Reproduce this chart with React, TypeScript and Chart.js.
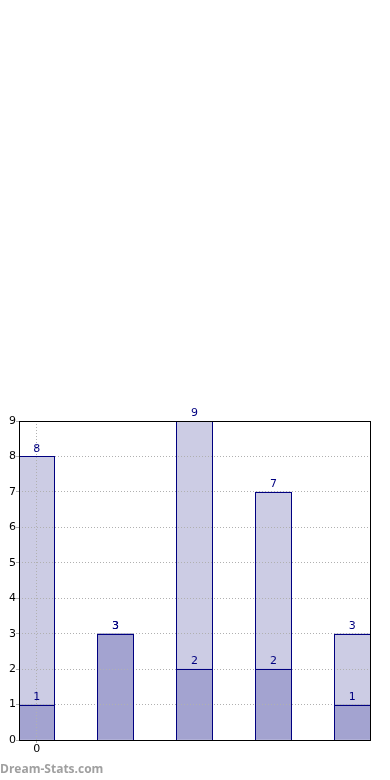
import React, { useEffect, useRef } from "react";
import { Chart, registerables } from "chart.js";

Chart.register(...registerables);

const positions = [0, 1, 2, 3, 4];
const totalValues = [8, 3, 9, 7, 3];
const partValues = [1, 3, 2, 2, 1];
const yTicks = [0, 1, 2, 3, 4, 5, 6, 7, 8, 9];
const xTickLabels = ["0"];
const watermark = "Dream-Stats.com";

const LIGHT = "#ccccE4";
const DARK = "#a3a3d0";
const NAVY = "#000080";

const framePlugin = {
  id: "frame",
  afterDraw(chart: any) {
    const { ctx, chartArea } = chart;
    const fl = Math.round(chartArea.left) + 0.5;
    const ft = Math.round(chartArea.top) + 0.5;
    const fw = Math.round(chartArea.right - chartArea.left);
    const fh = Math.round(chartArea.bottom - chartArea.top);
    ctx.save();
    ctx.strokeStyle = NAVY;
    ctx.lineWidth = 1;
    [0, 1].forEach((di) => {
      const meta = chart.getDatasetMeta(di);
      meta.data.forEach((el: any) => {
        const l = Math.max(fl, Math.floor(el.x - el.width / 2) + 0.5);
        const r = Math.min(fl + fw, Math.floor(el.x + el.width / 2) + 0.5);
        const t = Math.round(el.y) + 0.5;
        const b = Math.round(el.base) + 0.5;
        ctx.strokeRect(l, t, r - l, b - t);
      });
    });
    ctx.font = "11px 'DejaVu Sans'";
    ctx.fillStyle = NAVY;
    ctx.textAlign = "center";
    ctx.textBaseline = "bottom";
    chart.data.datasets.forEach((ds: any, di: number) => {
      const meta = chart.getDatasetMeta(di);
      meta.data.forEach((el: any, i: number) => {
        const v = ds.data[i].y;
        ctx.fillText(String(v), el.x, el.y - 2);
      });
    });
    ctx.strokeStyle = "#000";
    ctx.strokeRect(fl, ft, fw, fh);
    ctx.font = "bold 12px 'Open Sans'";
    ctx.fillStyle = "#a0a0a0";
    ctx.textAlign = "left";
    ctx.textBaseline = "middle";
    ctx.fillText(watermark, 0, 770);
    ctx.restore();
  },
};

export default function App() {
  const ref = useRef<HTMLCanvasElement>(null);
  useEffect(() => {
    if (!ref.current) return;
    const chart = new Chart(ref.current, {
      type: "bar",
      data: {
        datasets: [
          {
            data: positions.map((x, i) => ({ x, y: totalValues[i] })),
            backgroundColor: LIGHT,
            borderWidth: 0,
            barThickness: 35.5,
            grouped: false,
            order: 2,
          },
          {
            data: positions.map((x, i) => ({ x, y: partValues[i] })),
            backgroundColor: DARK,
            borderWidth: 0,
            barThickness: 35.5,
            grouped: false,
            order: 1,
          },
        ] as any,
      },
      options: {
        animation: false,
        responsive: false,
        maintainAspectRatio: false,
        layout: { padding: { top: 421, right: 20, left: 0, bottom: 0 } },
        plugins: { legend: { display: false }, tooltip: { enabled: false } },
        scales: {
          x: {
            type: "linear",
            offset: false,
            z: 1,
            min: -0.225,
            max: 4.225,
            afterBuildTicks(axis: any) {
              axis.ticks = xTickLabels.map((l) => ({ value: Number(l) }));
            },
            afterFit(axis: any) {
              axis.height = 40;
            },
            border: { display: false, dash: [1, 2] },
            grid: {
              z: 1,
              offset: false,
              color: "#b0b0b0",
              tickColor: "#b0b0b0",
              tickLength: 3,
              lineWidth: 1,
            },
            ticks: {
              color: "#000",
              font: { family: "'DejaVu Sans'", size: 11 },
              padding: 0,
              maxRotation: 0,
            },
          },
          y: {
            min: 0,
            max: 9,
            z: 1,
            afterBuildTicks(axis: any) {
              axis.ticks = yTicks.map((v) => ({ value: v }));
            },
            afterFit(axis: any) {
              axis.width = 19;
            },
            border: { display: false, dash: [1, 2] },
            grid: {
              z: 1,
              color: "#b0b0b0",
              tickColor: "#b0b0b0",
              tickLength: 3,
              lineWidth: 1,
            },
            ticks: {
              color: "#000",
              font: { family: "'DejaVu Sans'", size: 11 },
              padding: 0,
            },
          },
        },
      } as any,
      plugins: [framePlugin],
    });
    return () => chart.destroy();
  }, []);
  return (
    <div style={{ position: "absolute", left: 0, top: 0, width: 390, height: 780 }}>
      <canvas ref={ref} width={390} height={780} style={{ display: "block" }} />
    </div>
  );
}
